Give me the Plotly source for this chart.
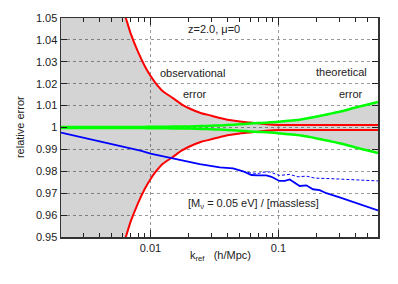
import math
import plotly.graph_objects as go

# ---- data ----
k = [0.002, 0.003, 0.004, 0.005, 0.006, 0.0065, 0.007, 0.008, 0.009, 0.01,
     0.011, 0.0125, 0.015, 0.0175, 0.02, 0.025, 0.03, 0.035, 0.04, 0.05,
     0.06, 0.07, 0.08, 0.1, 0.12, 0.15, 0.2, 0.25, 0.3, 0.4, 0.5, 0.6]
obs_err = [0.40, 0.20, 0.11, 0.075, 0.056, 0.049, 0.043, 0.0345, 0.0282, 0.0236,
           0.0202, 0.0166, 0.0134, 0.0106, 0.0088, 0.0065, 0.0054, 0.0043, 0.0035, 0.0027,
           0.0023, 0.0019, 0.0015, 0.0011, 0.0011, 0.0011, 0.0011, 0.0011, 0.0011, 0.0011, 0.0011, 0.0011]
theo_err = [0.0002, 0.0002, 0.0002, 0.0002, 0.0002, 0.00022, 0.00024, 0.00026, 0.00028, 0.0003,
            0.00032, 0.00035, 0.0004, 0.00045, 0.0005, 0.00065, 0.0008, 0.00095, 0.0011, 0.0015,
            0.0018, 0.0020, 0.0022, 0.0026, 0.0031, 0.0037, 0.0050, 0.0062, 0.0072, 0.0091, 0.0105, 0.0117]

k_nu = [0.002, 0.003, 0.005, 0.0085, 0.01, 0.015, 0.0243, 0.0348, 0.0442, 0.0529,
        0.0615, 0.0693, 0.0805, 0.0882, 0.102, 0.112, 0.1226, 0.134, 0.1466, 0.1654,
        0.186, 0.21, 0.237, 0.301, 0.432, 0.6]
ratio_nu = [0.9977, 0.9954, 0.9925, 0.9893, 0.9881, 0.9860, 0.9833, 0.9818, 0.9813, 0.9800,
            0.9783, 0.9781, 0.9781, 0.9775, 0.9756, 0.9756, 0.9763, 0.9748, 0.9733, 0.9736,
            0.9718, 0.9714, 0.9700, 0.9681, 0.9651, 0.9621]

k_nu_lin = [0.0529, 0.0597, 0.0693, 0.0758, 0.0855, 0.094, 0.102, 0.1226, 0.142, 0.1654,
            0.192, 0.267, 0.407, 0.6]
ratio_nu_lin = [0.9800, 0.9793, 0.9790, 0.9796, 0.9797, 0.9790, 0.9781, 0.9786, 0.9775, 0.9778,
                0.9769, 0.9766, 0.9760, 0.9756]

y_tickvals = [0.95, 0.96, 0.97, 0.98, 0.99, 1.0, 1.01, 1.02, 1.03, 1.04, 1.05]
y_ticktext = ["0.95", "0.96", "0.97", "0.98", "0.99", "1", "1.01", "1.02", "1.03", "1.04", "1.05"]
x_tickvals = [0.01, 0.1]
x_ticktext = ["0.01", "0.1"]
x_minor = [0.002, 0.003, 0.004, 0.005, 0.006, 0.007, 0.008, 0.009,
           0.02, 0.03, 0.04, 0.05, 0.06, 0.07, 0.08, 0.09,
           0.2, 0.3, 0.4, 0.5, 0.6]

FONT = "Liberation Sans, Arial, sans-serif"

obs_up = [1 + e for e in obs_err]
obs_lo = [1 - e for e in obs_err]
theo_up = [1 + e for e in theo_err]
theo_lo = [1 - e for e in theo_err]
env = [max(a, b) for a, b in zip(obs_err, theo_err)]
env_up = [1 + e for e in env]
env_lo = [1 - e for e in env]

fig = go.Figure()

# shaded envelope
fig.add_trace(go.Scatter(x=k + k[::-1], y=env_up + env_lo[::-1], fill="toself",
                         fillcolor="rgba(0,0,0,0.17)", line=dict(width=0),
                         mode="lines", hoverinfo="skip", showlegend=False))

# observational error (red)
for yy in (obs_up, obs_lo):
    fig.add_trace(go.Scatter(x=k, y=yy, mode="lines", showlegend=False,
                             line=dict(color="#ff0000", width=2, shape="spline", smoothing=0.6)))
# theoretical error (green)
for yy in (theo_up, theo_lo):
    fig.add_trace(go.Scatter(x=k, y=yy, mode="lines", showlegend=False,
                             line=dict(color="#00ff00", width=2.5, shape="spline", smoothing=0.6)))

# neutrino ratio
fig.add_trace(go.Scatter(x=k_nu_lin, y=ratio_nu_lin, mode="lines", showlegend=False,
                         line=dict(color="#0000ff", width=1, dash="3px,2px")))
fig.add_trace(go.Scatter(x=k_nu, y=ratio_nu, mode="lines", showlegend=False,
                         line=dict(color="#0000ff", width=1.8)))


def lx(v):
    return math.log10(v)


tfont = dict(family=FONT, size=11, color="#222222")
annots = [
    dict(x=lx(0.0313), y=1.0451, text="z=2.0, \u03bc=0"),
    dict(x=lx(0.0212), y=1.0249, text="observational"),
    dict(x=lx(0.0222), y=1.01525, text="error"),
    dict(x=lx(0.3124), y=1.0252, text="theoretical"),
    dict(x=lx(0.3673), y=1.01547, text="error"),
    dict(x=lx(0.0641), y=0.96525, text="[M<sub>\u03bd</sub> = 0.05 eV] / [massless]"),
]
for a in annots:
    fig.add_annotation(xref="x", yref="y", showarrow=False, font=tfont, **a)

fig.add_annotation(xref="paper", yref="paper", x=-0.1546, y=0.502, text="relative error",
                   textangle=-90, showarrow=False, font=tfont)
fig.add_annotation(xref="paper", yref="paper", x=0.5016, y=-0.1256,
                   text="k<sub>ref</sub>\u00a0\u00a0\u00a0(h/Mpc)",
                   showarrow=False, font=tfont)

fig.update_layout(
    width=398, height=284,
    margin=dict(l=61, r=20, t=14, b=47),
    paper_bgcolor="white", plot_bgcolor="white",
    font=dict(family=FONT, size=11, color="#222222"),
    hovermode=False,
    xaxis=dict(type="log", range=[lx(0.002), lx(0.6)],
               tickmode="array", tickvals=x_tickvals, ticktext=x_ticktext,
               ticks="inside", ticklen=7, tickwidth=1, tickcolor="#222",
               showline=True, linecolor="#333", linewidth=1.5, mirror="allticks",
               showgrid=True, gridcolor="#999", griddash="dot", gridwidth=1,
               zeroline=False,
               minor=dict(tickmode="array", tickvals=x_minor, ticks="inside",
                          ticklen=4, tickcolor="#222", showgrid=False),
               tickfont=dict(family=FONT, size=11, color="#222")),
    yaxis=dict(range=[0.95, 1.05], tickmode="array", tickvals=y_tickvals, ticktext=y_ticktext,
               ticks="inside", ticklen=6, tickwidth=1, tickcolor="#222",
               showline=True, linecolor="#333", linewidth=1.5, mirror="allticks",
               showgrid=True, gridcolor="#999", griddash="dot", gridwidth=1,
               zeroline=False,
               tickfont=dict(family=FONT, size=11, color="#222")),
)

fig.write_html("out.html",
               config={"displayModeBar": False, "staticPlot": True},
               post_script="document.body.style.margin='0';document.body.style.padding='0';")
